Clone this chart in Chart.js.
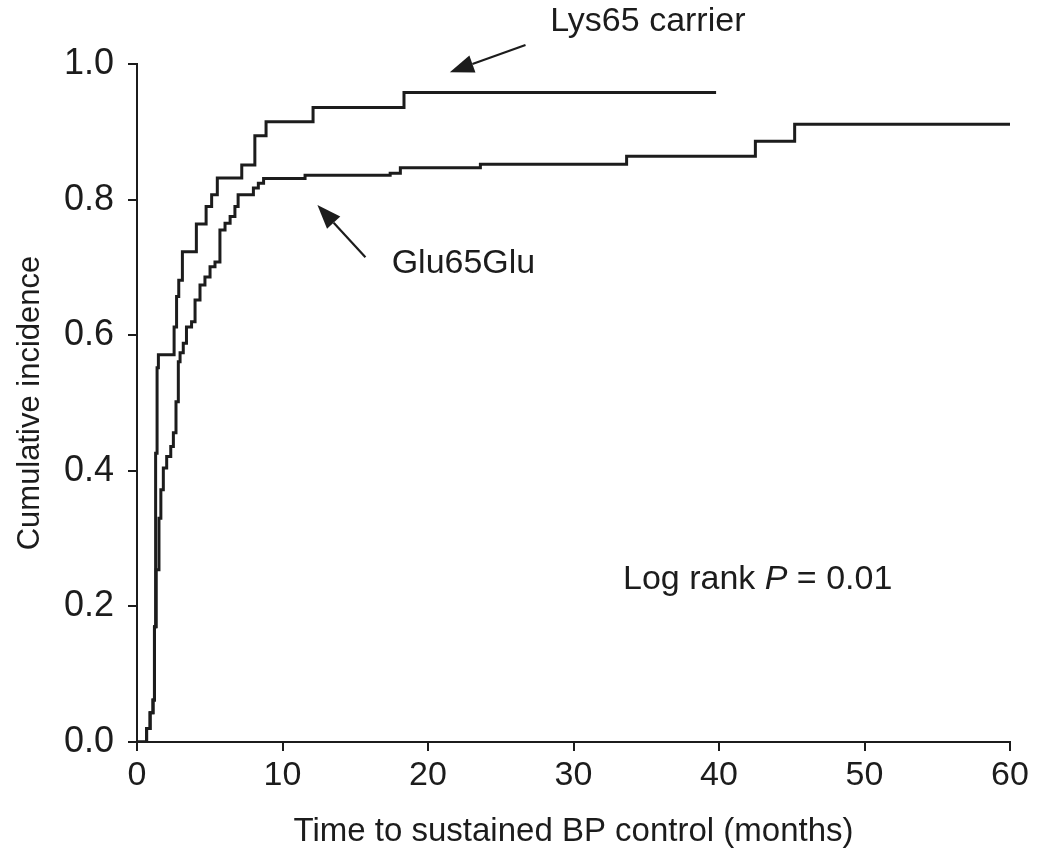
<!DOCTYPE html>
<html lang="en">
<head>
  <meta charset="UTF-8">
  <title>Cumulative incidence of sustained BP control</title>
  <script src="https://cdn.jsdelivr.net/npm/chart.js"></script>
  <style>
    html, body { margin: 0; padding: 0; background: #fff; }
    .wrap { width: 1050px; height: 858px; position: relative; }
  </style>
</head>
<body>
  <div class="wrap">
    <canvas id="kmChart"></canvas>
  </div>
  <script>
    // Lys65 carrier curve (step changes: time in months, cumulative incidence after step)
    const lysTimes  = [0, 0.66, 0.9, 1.1, 1.2, 1.28, 1.38, 1.47, 2.55, 2.72, 2.87, 3.12, 4.08, 4.75, 5.13, 5.52, 7.2, 8.1, 8.87, 12.1, 18.35, 39.8];
    const lysValues = [0, 0.02, 0.043, 0.062, 0.17, 0.426, 0.552, 0.571, 0.612, 0.657, 0.681, 0.723, 0.764, 0.790, 0.807, 0.832, 0.851, 0.894, 0.915, 0.936, 0.958, 0.958];

    // Glu65Glu curve
    const gluTimes  = [0, 0.66, 0.9, 1.1, 1.2, 1.32, 1.51, 1.64, 1.81, 2.04, 2.32, 2.5, 2.68, 2.84, 2.96, 3.18, 3.4, 3.75, 3.99, 4.33, 4.67, 5.02, 5.36, 5.7, 6.05, 6.4, 6.73, 6.95, 8.0, 8.34, 8.7, 11.55, 17.4, 18.1, 23.6, 33.65, 42.5, 45.2, 60];
    const gluValues = [0, 0.02, 0.043, 0.062, 0.17, 0.254, 0.33, 0.372, 0.404, 0.421, 0.436, 0.456, 0.502, 0.561, 0.574, 0.588, 0.612, 0.62, 0.652, 0.674, 0.686, 0.701, 0.708, 0.755, 0.765, 0.775, 0.79, 0.807, 0.817, 0.824, 0.831, 0.836, 0.839, 0.847, 0.852, 0.864, 0.886, 0.911, 0.911];

    const xTicks = [0, 10, 20, 30, 40, 50, 60];
    const yTicks = [0, 0.2, 0.4, 0.6, 0.8, 1.0];

    // annotations in data units: label, text anchor, arrow tail, arrow tip
    const notes = [
      { text: 'Lys65 carrier', at: [28.4, 1.062], tail: [26.7, 1.028], tip: [21.5, 0.988] },
      { text: 'Glu65Glu', at: [17.5, 0.705], tail: [15.7, 0.715], tip: [12.4, 0.792] }
    ];
    const pNote = { at: [33.4, 0.239] };

    const FONT = '"Liberation Sans", Arial, Helvetica, sans-serif';
    const INK = '#1c1c1c';

    function toPoints(xs, ys) {
      return xs.map((x, i) => ({ x: x, y: ys[i] }));
    }

    function drawArrow(ctx, x1, y1, x2, y2) {
      const ang = Math.atan2(y2 - y1, x2 - x1);
      const len = 24, half = 9;
      const bx = x2 - len * Math.cos(ang), by = y2 - len * Math.sin(ang);
      ctx.beginPath();
      ctx.moveTo(x1, y1);
      ctx.lineTo(bx, by);
      ctx.lineWidth = 2.2;
      ctx.stroke();
      ctx.beginPath();
      ctx.moveTo(x2, y2);
      ctx.lineTo(bx + half * Math.sin(ang), by - half * Math.cos(ang));
      ctx.lineTo(bx - half * Math.sin(ang), by + half * Math.cos(ang));
      ctx.closePath();
      ctx.fill();
    }

    const notesPlugin = {
      id: 'notes',
      afterDraw(chart) {
        const ctx = chart.ctx;
        const xs = chart.scales.x, ys = chart.scales.y;
        const px = v => xs.getPixelForValue(v);
        const py = v => ys.getPixelForValue(v);
        ctx.save();
        ctx.fillStyle = INK;
        ctx.strokeStyle = INK;
        ctx.textBaseline = 'middle';
        ctx.textAlign = 'left';
        ctx.font = '34px ' + FONT;
        notes.forEach(n => {
          ctx.fillText(n.text, px(n.at[0]), py(n.at[1]));
          drawArrow(ctx, px(n.tail[0]), py(n.tail[1]), px(n.tip[0]), py(n.tip[1]));
        });
        // Log rank P = 0.01 (P in italics)
        let x = px(pNote.at[0]);
        const y = py(pNote.at[1]);
        const parts = [['Log rank ', ''], ['P', 'italic '], [' = 0.01', '']];
        parts.forEach(p => {
          ctx.font = p[1] + '34px ' + FONT;
          ctx.fillText(p[0], x, y);
          x += ctx.measureText(p[0]).width;
        });
        ctx.restore();
      }
    };

    new Chart(document.getElementById('kmChart'), {
      type: 'line',
      data: {
        datasets: [
          {
            label: 'Lys65 carrier',
            data: toPoints(lysTimes, lysValues),
            borderColor: INK,
            borderWidth: 3,
            pointRadius: 0,
            stepped: true,
            fill: false
          },
          {
            label: 'Glu65Glu',
            data: toPoints(gluTimes, gluValues),
            borderColor: INK,
            borderWidth: 3,
            pointRadius: 0,
            stepped: true,
            fill: false
          }
        ]
      },
      options: {
        responsive: true,
        maintainAspectRatio: false,
        animation: false,
        layout: { padding: { top: 64, right: 40, left: 0, bottom: 0 } },
        plugins: {
          legend: { display: false },
          tooltip: { enabled: false }
        },
        scales: {
          x: {
            type: 'linear',
            min: 0,
            max: 60,
            afterBuildTicks: s => { s.ticks = xTicks.map(v => ({ value: v })); },
            afterFit: s => { s.height = 116; },
            grid: { drawOnChartArea: false, drawTicks: true, tickLength: 9, color: INK, lineWidth: 2 },
            border: { color: INK, width: 2 },
            ticks: { color: INK, font: { family: FONT, size: 34 }, padding: 4, maxRotation: 0 },
            title: {
              display: true,
              text: 'Time to sustained BP control (months)',
              color: INK,
              font: { family: FONT, size: 33, lineHeight: 1.2 },
              padding: { top: 0, bottom: 6 }
            }
          },
          y: {
            min: 0,
            max: 1,
            afterBuildTicks: s => { s.ticks = yTicks.map(v => ({ value: v })); },
            afterFit: s => { s.width = 137; },
            grid: { drawOnChartArea: false, drawTicks: true, tickLength: 9, color: INK, lineWidth: 2 },
            border: { color: INK, width: 2 },
            ticks: {
              color: INK,
              font: { family: FONT, size: 36 },
              padding: 14,
              callback: v => v.toFixed(1)
            },
            title: {
              display: true,
              text: 'Cumulative incidence',
              color: INK,
              font: { family: FONT, size: 31, lineHeight: 1.2 },
              padding: { top: 12, bottom: 0 }
            }
          }
        }
      },
      plugins: [notesPlugin]
    });
  </script>
</body>
</html>
